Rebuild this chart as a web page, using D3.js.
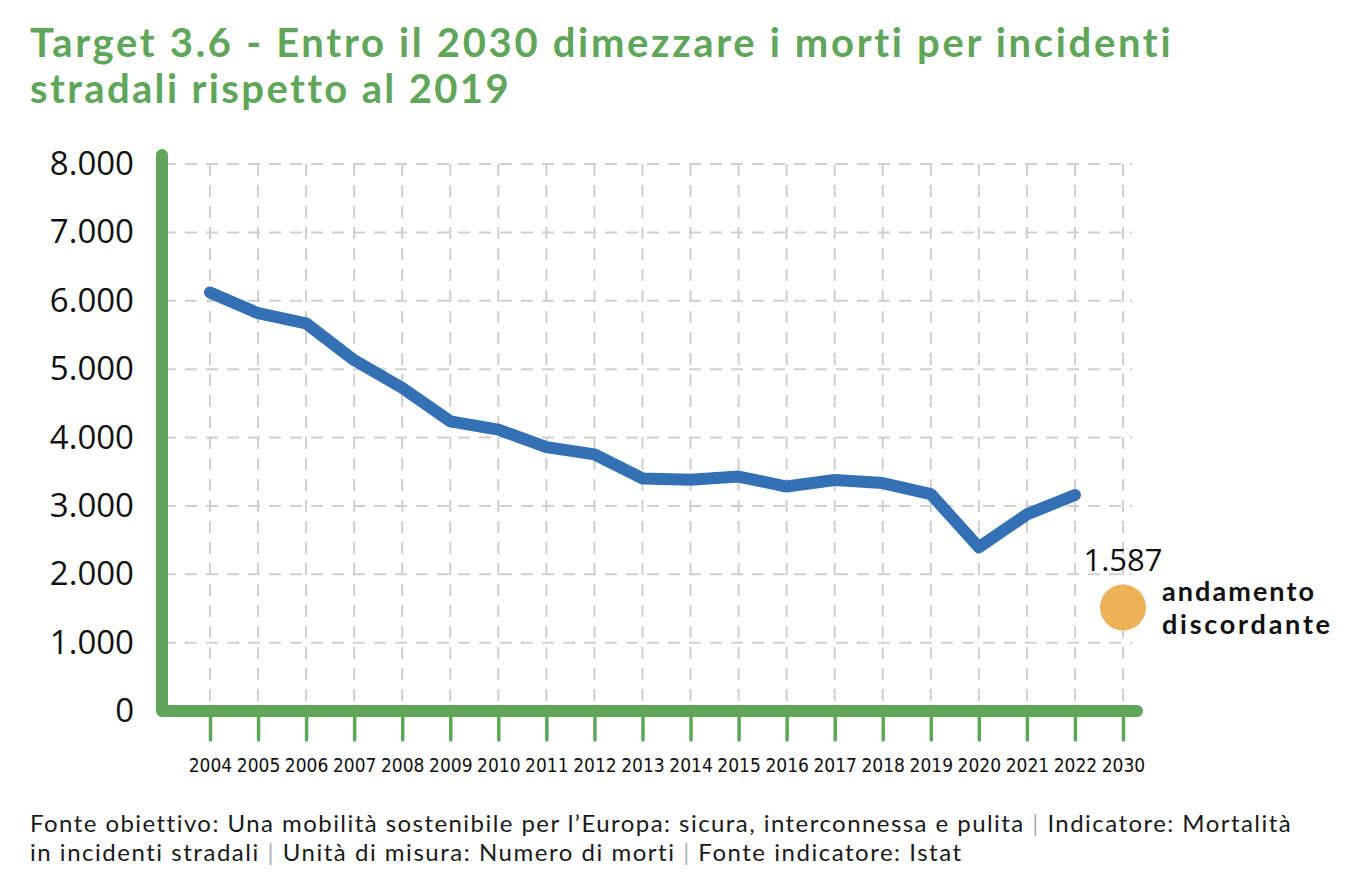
<!DOCTYPE html>
<html>
<head>
<meta charset="utf-8">
<script src="https://cdn.jsdelivr.net/npm/d3@7"></script>
<style>
  body { margin: 0; background: #fff; }
  svg { display: block; }
</style>
</head>
<body>
<svg width="1356" height="890"></svg>
<script>
const years = ["2004", "2005", "2006", "2007", "2008", "2009", "2010", "2011", "2012", "2013",
  "2014", "2015", "2016", "2017", "2018", "2019", "2020", "2021", "2022", "2030"];
const deaths = [6122, 5818, 5669, 5131, 4725, 4237, 4114, 3860, 3753, 3401,
  3381, 3428, 3283, 3378, 3334, 3173, 2395, 2875, 3159];
const targetYear = "2030";
const targetValue = 1587;
const yTicks = [0, 1000, 2000, 3000, 4000, 5000, 6000, 7000, 8000];
const titleLines = ["Target 3.6 - Entro il 2030 dimezzare i morti per incidenti", "stradali rispetto al 2019"];
const statusLines = ["andamento", "discordante"];

const green = "#5fa55a";
const svg = d3.select("svg");

const it = d3.formatLocale({ decimal: ",", thousands: ".", grouping: [3], currency: ["", "€"] });
const fmt = it.format(",d");

// spread letters so a line of text gets the width it has in the original
function fitWidth(node, target) {
  const len = node.getComputedTextLength();
  const n = node.textContent.length;
  if (n > 1) d3.select(node).attr("letter-spacing", (target - len) / (n - 1));
}

const x = d3.scalePoint().domain(years).range([210, 1123]);
const y = d3.scaleLinear().domain([0, 8000]).range([711, 164]);

// title
const titleWidths = [1142, 477];
svg.append("g").selectAll("text")
  .data(titleLines)
  .enter().append("text")
  .attr("x", 30)
  .attr("y", (d, i) => 57 + i * 46)
  .attr("fill", green)
  .style("font-family", "Lato, sans-serif")
  .style("font-weight", "bold")
  .style("font-size", "40px")
  .text(d => d)
  .each(function (d, i) { fitWidth(this, titleWidths[i]); });

// grid
const grid = svg.append("g").attr("stroke", "#cfcfcf").attr("stroke-width", 2).attr("stroke-dasharray", "12,9");
grid.selectAll(".vg")
  .data(years)
  .enter().append("line")
  .attr("x1", d => x(d)).attr("x2", d => x(d))
  .attr("y1", y(8000)).attr("y2", y(0));
grid.selectAll(".hg")
  .data(yTicks.slice(1))
  .enter().append("line")
  .attr("x1", 164).attr("x2", 1132)
  .attr("y1", d => y(d)).attr("y2", d => y(d));

// y labels
const yAxis = svg.append("g")
  .attr("transform", "translate(148,0)")
  .call(d3.axisLeft(y).tickValues(yTicks).tickFormat(fmt).tickSize(0).tickPadding(14));
yAxis.select(".domain").remove();
yAxis.selectAll("text")
  .attr("fill", "#111")
  .style("font-family", "'Open Sans', sans-serif")
  .style("font-size", "33px");

// x axis ticks + labels
const xAxis = svg.append("g")
  .attr("transform", `translate(0,${y(0)})`)
  .call(d3.axisBottom(x).tickSize(29).tickPadding(19));
xAxis.select(".domain").remove();
xAxis.selectAll("line").attr("stroke", green).attr("stroke-width", 3.5).attr("stroke-linecap", "round");
xAxis.selectAll("text")
  .attr("fill", "#111")
  .style("font-family", "'Liberation Sans Narrow', 'DejaVu Sans Condensed', sans-serif")
  .style("font-size", "19px");

// green frame
svg.append("path")
  .attr("d", `M162,155V${y(0)}H1137`)
  .attr("fill", "none")
  .attr("stroke", green)
  .attr("stroke-width", 12)
  .attr("stroke-linecap", "round")
  .attr("stroke-linejoin", "round");

// series
const line = d3.line().x((d, i) => x(years[i])).y(d => y(d));
svg.append("path")
  .datum(deaths)
  .attr("d", line)
  .attr("fill", "none")
  .attr("stroke", "#3470b4")
  .attr("stroke-width", 12)
  .attr("stroke-linecap", "round")
  .attr("stroke-linejoin", "round");

// target
svg.append("circle")
  .attr("cx", x(targetYear))
  .attr("cy", y(targetValue) + 5)
  .attr("r", 23)
  .attr("fill", "#edb257");
svg.append("text")
  .attr("x", x(targetYear))
  .attr("y", y(targetValue) - 31)
  .attr("text-anchor", "middle")
  .attr("fill", "#111")
  .style("font-family", "'Open Sans', sans-serif")
  .style("font-size", "31px")
  .text(fmt(targetValue));
const statusWidths = [152, 168];
svg.append("g").selectAll("text")
  .data(statusLines)
  .enter().append("text")
  .attr("x", x(targetYear) + 39)
  .attr("y", (d, i) => y(targetValue) - 1 + i * 33)
  .attr("fill", "#111")
  .style("font-family", "Lato, sans-serif")
  .style("font-weight", "bold")
  .style("font-size", "27px")
  .text(d => d)
  .each(function (d, i) { fitWidth(this, statusWidths[i]); });

// footer
const footer = [
  [["Fonte obiettivo: Una mobilità sostenibile per l’Europa: sicura, interconnessa e pulita", 0], [" | ", 1], ["Indicatore: Mortalità", 0]],
  [["in incidenti stradali", 0], [" | ", 1], ["Unità di misura: Numero di morti", 0], [" | ", 1], ["Fonte indicatore: Istat", 0]]
];
const footerWidths = [1260, 932];
footer.forEach((parts, i) => {
  const t = svg.append("text")
    .attr("x", 30)
    .attr("y", 832 + i * 29)
    .style("font-family", "Lato, sans-serif")
    .style("font-size", "24px");
  parts.forEach(p => {
    t.append("tspan").attr("fill", p[1] ? "#b0b0b0" : "#1a1a1a").text(p[0]);
  });
  fitWidth(t.node(), footerWidths[i]);
});
</script>
</body>
</html>
